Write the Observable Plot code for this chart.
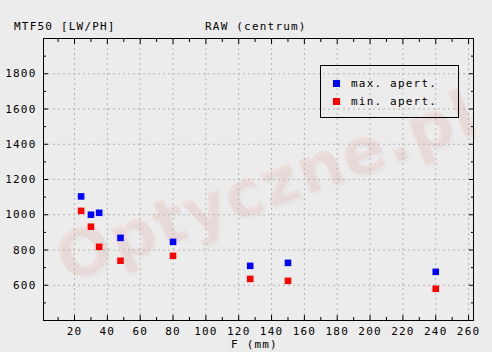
<!DOCTYPE html>
<html>
<head>
<meta charset="utf-8">
<script src="https://cdn.jsdelivr.net/npm/d3@7"></script>
<script src="https://cdn.jsdelivr.net/npm/@observablehq/plot@0.6"></script>
<style>
  html, body { margin: 0; padding: 0; background: #ececec; }
  #wrap { position: relative; width: 492px; height: 352px; overflow: hidden; background: #ececec;
          font-family: "DejaVu Sans Mono", monospace; font-size: 11px; letter-spacing: 1.2px; color: #000; }
  #wrap svg { position: absolute; left: 0; top: 0; }
  .t { position: absolute; white-space: pre; line-height: 12px; }
  #legend { position: absolute; left: 320px; top: 65px; width: 139px; height: 53px; box-sizing: border-box;
            border: 1px solid #000; }
  .sw { position: absolute; width: 7px; height: 7px; }
</style>
</head>
<body>
<div id="wrap"></div>
<script>
// ---- data ----
const focal = [24, 30, 35, 48, 80, 127, 150, 240];
const maxApert = [1104, 1000, 1011, 869, 846, 710, 727, 676];
const minApert = [1022, 932, 818, 739, 767, 636, 625, 580];
const seriesNames = ["max. apert.", "min. apert."];
const seriesColors = ["#0000ff", "#ff0000"];
const xMajor = d3.range(20, 261, 20);
const xMinor = d3.range(10, 261, 20);
const yMajor = d3.range(400, 2001, 200);
const yMinor = d3.range(500, 2000, 200);
const yGrid = d3.range(600, 1801, 200);
const titleLeft = "MTF50 [LW/PH]";
const titleCenter = "RAW (centrum)";
const xLabel = "F (mm)";
const watermark = "Optyczne.pl";

const rows = [];
focal.forEach((f, i) => {
  rows.push({f, v: maxApert[i], s: seriesNames[0]});
  rows.push({f, v: minApert[i], s: seriesNames[1]});
});

const gridStyle = {stroke: "#b4b4b4", strokeOpacity: 1, strokeDasharray: "2,3"};

const chart = Plot.plot({
  width: 492,
  height: 352,
  marginTop: 38,
  marginLeft: 43,
  marginRight: 19,
  marginBottom: 32,
  style: {background: "#ececec", fontFamily: "DejaVu Sans Mono", fontSize: "11px", letterSpacing: "1.2px", color: "#000"},
  x: {domain: [1.1, 263], label: null},
  y: {domain: [400, 2000], label: null},
  color: {domain: seriesNames, range: seriesColors},
  marks: [
    Plot.text([watermark], {text: d => d, frameAnchor: "middle", dx: 11, dy: 11, rotate: -20, fontSize: 64, fontWeight: "bold",
      fontFamily: "DejaVu Sans", letterSpacing: "-3px", fill: "#000", fillOpacity: 0.02}),
    Plot.text([watermark], {text: d => d, frameAnchor: "middle", dx: 8, dy: 8, rotate: -20, fontSize: 64, fontWeight: "bold",
      fontFamily: "DejaVu Sans", letterSpacing: "-3px", fill: "#ff0000", fillOpacity: 0.06}),
    Plot.gridX(xMajor, {...gridStyle}),
    Plot.gridY(yGrid, {...gridStyle}),
    Plot.axisX(xMajor, {anchor: "bottom", tickSize: -5, tickPadding: 12, tickFormat: d => String(d), label: null}),
    Plot.axisX(xMinor, {anchor: "bottom", tickSize: -3, fill: "none", label: null}),
    Plot.axisX(xMajor, {anchor: "top", tickSize: -5, fill: "none", label: null}),
    Plot.axisX(xMinor, {anchor: "top", tickSize: -3, fill: "none", label: null}),
    Plot.axisY(yMajor.filter(d => d >= 600 && d <= 1800), {anchor: "left", tickSize: -5, tickPadding: 12, tickFormat: d => String(d), label: null}),
    Plot.axisY(yMinor, {anchor: "left", tickSize: -3, fill: "none", label: null}),
    Plot.axisY(yMajor, {anchor: "right", tickSize: -5, fill: "none", label: null}),
    Plot.axisY(yMinor, {anchor: "right", tickSize: -3, fill: "none", label: null}),
    Plot.dot(rows, {x: "f", y: "v", fill: "s", symbol: "square", r: 3.7, stroke: null}),
    Plot.frame({stroke: "#000", strokeWidth: 1})
  ]
});

const wrap = document.getElementById("wrap");
wrap.appendChild(chart);

function addText(str, left, top, extra) {
  const d = document.createElement("div");
  d.className = "t";
  d.textContent = str;
  d.style.left = left + "px";
  d.style.top = top + "px";
  if (extra) Object.assign(d.style, extra);
  wrap.appendChild(d);
  return d;
}
addText(titleLeft, 14, 21);
addText(titleCenter, 205, 21);
addText(xLabel, 231, 340, {lineHeight: "10px"});

const legend = document.createElement("div");
legend.id = "legend";
wrap.appendChild(legend);
seriesNames.forEach((name, i) => {
  const sw = document.createElement("div");
  sw.className = "sw";
  sw.style.background = seriesColors[i];
  sw.style.left = (333 - 321) + "px";
  sw.style.top = (80 - 66 + i * 18) + "px";
  legend.appendChild(sw);
  const t = document.createElement("div");
  t.className = "t";
  t.textContent = name;
  t.style.left = (351 - 321) + "px";
  t.style.top = (78 - 66 + i * 18) + "px";
  legend.appendChild(t);
});
</script>
</body>
</html>
